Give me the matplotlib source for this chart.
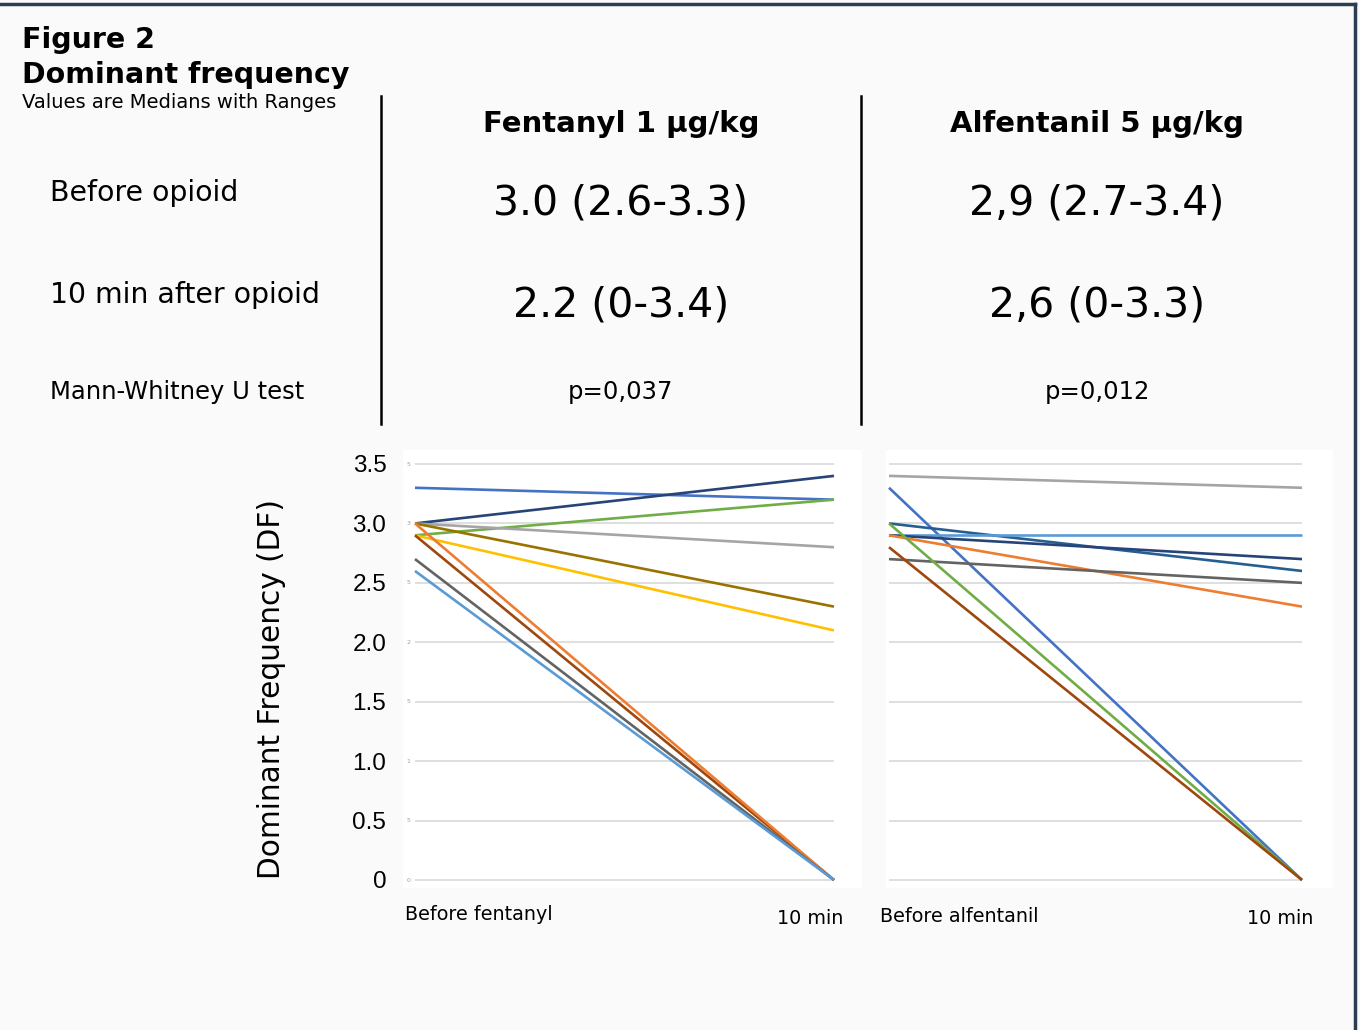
import matplotlib
matplotlib.use("Agg")
import matplotlib.pyplot as plt
from matplotlib.lines import Line2D

# Données
TIMES = [0, 1]
Y_TICKS = [0, 0.5, 1.0, 1.5, 2.0, 2.5, 3.0, 3.5]
Y_TICK_LABELS = ["0", "0.5", "1.0", "1.5", "2.0", "2.5", "3.0", "3.5"]
Y_TINY_LABELS = ["0", "5", "1", "5", "2", "5", "3", "5"]

FENT_BEFORE = [3.3, 3.0, 2.9, 3.0, 3.0, 2.9, 2.9, 3.0, 2.7, 2.6]
FENT_AFTER = [3.2, 3.4, 3.2, 2.8, 2.3, 2.1, 0.0, 0.0, 0.0, 0.0]
FENT_COLORS = ["#4472C4", "#264478", "#70AD47", "#A5A5A5", "#997300",
               "#FFC000", "#9E480E", "#ED7D31", "#636363", "#5B9BD5"]

ALF_BEFORE = [3.4, 3.3, 3.0, 2.9, 2.9, 2.9, 2.7, 3.0, 2.8]
ALF_AFTER = [3.3, 0.0, 2.6, 2.9, 2.7, 2.3, 2.5, 0.0, 0.0]
ALF_COLORS = ["#A5A5A5", "#4472C4", "#255E91", "#5B9BD5", "#264478",
              "#ED7D31", "#636363", "#70AD47", "#9E480E"]

ROW_LABELS = ["Before opioid", "10 min after opioid", "Mann-Whitney U test"]
FENT_TEXT = ["3.0 (2.6-3.3)", "2.2 (0-3.4)", "p=0,037"]
ALF_TEXT = ["2,9 (2.7-3.4)", "2,6 (0-3.3)", "p=0,012"]

W, H = 1360, 1030


def fx(x):
    return x / W


def fy(y):
    return 1 - y / H


def add_axes_px(fig, x0, y0, x1, y1):
    return fig.add_axes([fx(x0), fy(y1), (x1 - x0) / W, (y1 - y0) / H])


def draw_panel(ax, before, after, colors, x0px, x1px, left_px, right_px):
    # échelle : 0 -> y 880 px, 3.5 -> y 464 px
    unit_y = (880 - 464) / 3.5
    ax.set_ylim(-(888 - 880) / unit_y, 3.5 + (464 - 450) / unit_y)
    unit_x = x1px - x0px
    ax.set_xlim(-(x0px - left_px) / unit_x, 1 + (right_px - x1px) / unit_x)
    ax.set_facecolor("white")
    for s in ax.spines.values():
        s.set_visible(False)
    ax.hlines(Y_TICKS, 0, 1, colors="#d9d9d9", linewidth=1.2, zorder=1)
    for b, a, c in zip(before, after, colors):
        ax.plot(TIMES, [b, a], color=c, linewidth=1.9, zorder=2,
                solid_capstyle="butt")
    ax.set_xticks([])


fig = plt.figure(figsize=(13.6, 10.3), dpi=100)
fig.patch.set_facecolor("#fafafa")

# cadre (haut et droite)
fig.add_artist(Line2D([0, fx(1355)], [fy(4), fy(4)], color="#2b3d52", linewidth=2.5))
fig.add_artist(Line2D([fx(1355), fx(1355)], [fy(4), 0], color="#2b3d52", linewidth=2.5))

# titres
fig.text(fx(22), fy(48), "Figure 2", fontsize=20.5, fontweight="bold", va="baseline")
fig.text(fx(22), fy(83), "Dominant frequency", fontsize=20.5, fontweight="bold", va="baseline")
fig.text(fx(22), fy(108), "Values are Medians with Ranges", fontsize=14, va="baseline")

# tableau
fig.text(fx(621), fy(124), "Fentanyl 1 µg/kg", fontsize=21, fontweight="bold",
         ha="center", va="center")
fig.text(fx(1097), fy(124), "Alfentanil 5 µg/kg", fontsize=21, fontweight="bold",
         ha="center", va="center")

row_y = [193, 295, 392]
row_size = [20.4, 20.4, 17.5]
val_size = [29.5, 29.5, 17.5]
val_y = [204, 306, 392]
for i in range(3):
    fig.text(fx(50), fy(row_y[i]), ROW_LABELS[i], fontsize=row_size[i], va="center")
    fig.text(fx(621), fy(val_y[i]), FENT_TEXT[i], fontsize=val_size[i],
             ha="center", va="center")
    fig.text(fx(1097), fy(val_y[i]), ALF_TEXT[i], fontsize=val_size[i],
             ha="center", va="center")

for xs in [381, 861]:
    fig.add_artist(Line2D([fx(xs), fx(xs)], [fy(96), fy(424)], color="black", linewidth=1.8))

# graphiques
ax1 = add_axes_px(fig, 403, 450, 862, 888)
draw_panel(ax1, FENT_BEFORE, FENT_AFTER, FENT_COLORS, 415, 834, 403, 862)
ax1.set_yticks(Y_TICKS)
ax1.set_yticklabels(Y_TICK_LABELS, fontfamily="Liberation Sans", fontsize=17.5)
ax1.tick_params(axis="y", length=0, pad=12)
for v, t in zip(Y_TICKS, Y_TINY_LABELS):
    ax1.text(-0.015, v, t, fontsize=4.5, color="#a0a0a0", ha="center", va="center")

ax2 = add_axes_px(fig, 886, 450, 1333, 888)
draw_panel(ax2, ALF_BEFORE, ALF_AFTER, ALF_COLORS, 889, 1302, 886, 1333)
ax2.set_yticks([])

fig.text(fx(272), fy(689), "Dominant Frequency (DF)", fontsize=21.3, rotation=90,
         ha="center", va="center")

fig.text(fx(405), fy(915), "Before fentanyl", fontsize=13.8, va="center")
fig.text(fx(843), fy(918), "10 min", fontsize=13.8, va="center", ha="right")
fig.text(fx(880), fy(916), "Before alfentanil", fontsize=13.8, va="center")
fig.text(fx(1313), fy(918), "10 min", fontsize=13.8, va="center", ha="right")

fig.savefig("out.png", dpi=100, facecolor=fig.get_facecolor())
